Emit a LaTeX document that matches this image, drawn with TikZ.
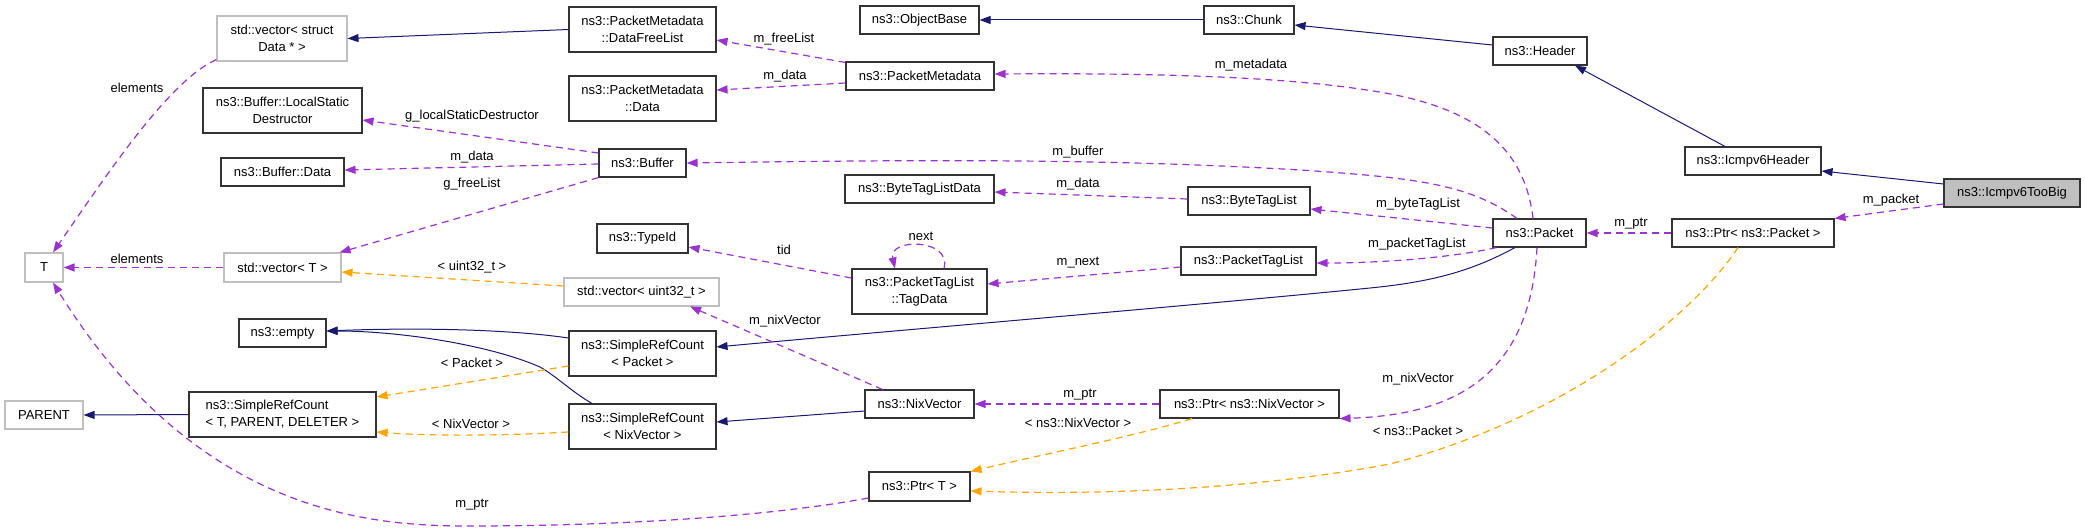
\documentclass[tikz,border=0pt]{standalone}
\usepackage{fontspec}
\setmainfont{Liberation Sans}
\usetikzlibrary{arrows.meta}
\definecolor{navy}{RGB}{25,25,112}
\definecolor{purp}{RGB}{154,50,205}
\definecolor{orng}{RGB}{255,165,0}
\definecolor{gbord}{RGB}{191,191,191}
\tikzset{
  box/.style={draw=black!80, line width=1.1pt, fill=white, inner sep=0pt, align=center, font=\fontsize{13}{17}\selectfont},
  gbox/.style={box, draw=gbord},
  lbl/.style={font=\fontsize{13}{15}\selectfont, inner sep=0pt},
  tip/.style={-{Triangle[length=11pt,width=8pt]}},
  inh/.style={tip, color=navy, line width=1pt},
  use/.style={tip, color=purp, line width=1.2pt, dash pattern=on 7pt off 5pt},
  tmpl/.style={tip, color=orng, line width=1.2pt, dash pattern=on 7pt off 5pt},
}
\begin{document}
\begin{tikzpicture}[x=1pt,y=-1pt]
\useasboundingbox (0,0) rectangle (2085,532);
% nodes
\node[gbox, minimum width=130pt, minimum height=45pt] (vecStruct) at (282,38.5) {std::vector< struct\\Data * >};
\node[box, minimum width=159pt, minimum height=45pt] (LocalStatic) at (282.5,110.5) {ns3::Buffer::LocalStatic\\Destructor};
\node[box, minimum width=123pt, minimum height=28pt] (BufData) at (282.5,172) {ns3::Buffer::Data};
\node[box, minimum width=147pt, minimum height=45pt] (DataFreeList) at (642.5,29.5) {ns3::PacketMetadata\\::DataFreeList};
\node[box, minimum width=147pt, minimum height=45pt] (PMData) at (642.5,98.5) {ns3::PacketMetadata\\::Data};
\node[box, minimum width=87pt, minimum height=28pt] (Buffer) at (642.5,163) {ns3::Buffer};
\node[box, minimum width=91pt, minimum height=29pt] (TypeId) at (642.5,238.5) {ns3::TypeId};
\node[gbox, minimum width=38pt, minimum height=29pt] (T) at (44,267.5) {T};
\node[gbox, minimum width=117pt, minimum height=29pt] (vecT) at (282.5,267.5) {std::vector< T >};
\node[gbox, minimum width=78pt, minimum height=28pt] (PARENT) at (44,415) {PARENT};
\node[box, minimum width=187pt, minimum height=45pt, align=left] (SRCT) at (282.5,414.5) {ns3::SimpleRefCount\\< T, PARENT, DELETER >};
\node[box, minimum width=87pt, minimum height=28pt] (empty) at (282.5,333) {ns3::empty};
\node[gbox, minimum width=155pt, minimum height=28pt] (vecU) at (641.5,292) {std::vector< uint32\_t >};
\node[box, minimum width=147pt, minimum height=45pt] (SRCPacket) at (642.5,353.5) {ns3::SimpleRefCount\\< Packet >};
\node[box, minimum width=147pt, minimum height=45pt] (SRCNix) at (642.5,426.5) {ns3::SimpleRefCount\\< NixVector >};
\node[box, minimum width=119pt, minimum height=28pt] (ObjectBase) at (919.5,20) {ns3::ObjectBase};
\node[box, minimum width=90pt, minimum height=28pt] (Chunk) at (1249,20) {ns3::Chunk};
\node[box, minimum width=148pt, minimum height=28pt] (PacketMetadata) at (920,76) {ns3::PacketMetadata};
\node[box, minimum width=149pt, minimum height=28pt] (ByteTagListData) at (919.5,189) {ns3::ByteTagListData};
\node[box, minimum width=122pt, minimum height=28pt] (ByteTagList) at (1249,201) {ns3::ByteTagList};
\node[box, minimum width=135pt, minimum height=28pt] (PacketTagList) at (1248.5,261) {ns3::PacketTagList};
\node[box, minimum width=135pt, minimum height=45pt] (TagData) at (919.5,291.5) {ns3::PacketTagList\\::TagData};
\node[box, minimum width=109pt, minimum height=28pt] (NixVector) at (919.5,404) {ns3::NixVector};
\node[box, minimum width=179pt, minimum height=28pt] (PtrNix) at (1249.5,404) {ns3::Ptr< ns3::NixVector >};
\node[box, minimum width=101pt, minimum height=29pt] (PtrT) at (919.5,486.5) {ns3::Ptr< T >};
\node[box, minimum width=94pt, minimum height=28pt] (Header) at (1540,51) {ns3::Header};
\node[box, minimum width=136pt, minimum height=28pt] (IcmpHeader) at (1753,161) {ns3::Icmpv6Header};
\node[box, minimum width=136pt, minimum height=28pt, fill=gbord] (TooBig) at (2012,193) {ns3::Icmpv6TooBig};
\node[box, minimum width=93pt, minimum height=28pt] (Packet) at (1539.5,233) {ns3::Packet};
\node[box, minimum width=162pt, minimum height=28pt] (PtrPacket) at (1753,233) {ns3::Ptr< ns3::Packet >};
% inheritance edges
\draw[inh] (DataFreeList.west) -- (vecStruct.east);
\draw[inh] (Chunk.west) -- (ObjectBase.east);
\draw[inh] ([yshift=6pt]Header.west) -- ([yshift=-5pt]Chunk.east);
\draw[inh] ([xshift=-28pt]IcmpHeader.north) -- ([xshift=35pt]Header.south);
\draw[inh] ([yshift=9pt]TooBig.west) -- ([yshift=-10pt]IcmpHeader.east);
\draw[inh] ([xshift=-24.5pt]Packet.south) .. controls (1470,272) and (1430,282) .. (1370,288) .. controls (1200,305) and (900,330) .. ([yshift=6.5pt]SRCPacket.east);
\draw[inh] ([yshift=-7pt]NixVector.west) -- ([yshift=4.5pt]SRCNix.east);
\draw[inh] (SRCT.west) -- (PARENT.east);
\draw[inh] ([yshift=15.5pt]SRCPacket.west) .. controls (500,328) and (400,328) .. ([yshift=2pt]empty.east);
\draw[inh] ([xshift=-50.5pt]SRCNix.north) .. controls (572,392) and (556,376) .. (540,367) .. controls (490,345) and (400,331) .. ([yshift=2pt]empty.east);
% usage edges
\draw[use] ([yshift=-11pt]TooBig.west) -- (PtrPacket.north east);
\draw[use] (PtrPacket.west) -- (Packet.east);
\draw[use] ([xshift=-6.5pt]Packet.north) .. controls (1525,150) and (1480,110) .. (1385,93) .. controls (1290,76) and (1150,73) .. ([yshift=2pt]PacketMetadata.east);
\draw[use] ([xshift=-22.5pt]Packet.north) .. controls (1470,185) and (1420,178) .. (1300,170) .. controls (1100,158) and (900,160) .. (Buffer.east);
\draw[use] ([yshift=5pt]Packet.west) -- ([yshift=-8pt]ByteTagList.east);
\draw[use] ([xshift=4pt]Packet.south west) .. controls (1450,258) and (1380,263) .. ([yshift=-2pt]PacketTagList.east);
\draw[use] ([xshift=-2.5pt]Packet.south) .. controls (1530,380) and (1450,415) .. (PtrNix.south east);
\draw[use] ([yshift=2pt]ByteTagList.west) -- ([yshift=-3pt]ByteTagListData.east);
\draw[use] ([yshift=-6pt]PacketTagList.west) -- ([yshift=7.5pt]TagData.east);
\draw[use] ([xshift=24.5pt]TagData.north) .. controls (952,238) and (888,238) .. ([xshift=-24.5pt]TagData.north);
\draw[use] ([yshift=13.5pt]TagData.west) -- ([yshift=-8.5pt]TypeId.east);
\draw[use] ([yshift=-1pt]PacketMetadata.north west) -- ([yshift=-10.5pt]DataFreeList.east);
\draw[use] ([yshift=-7pt]PacketMetadata.west) -- ([yshift=8.5pt]PMData.east);
\draw[use] ([yshift=10pt]Buffer.west) -- ([yshift=-9.5pt]LocalStatic.east);
\draw[use] ([yshift=-1pt]Buffer.west) -- ([yshift=2pt]BufData.east);
\draw[use] (Buffer.south west) -- ([xshift=-2pt]vecT.north east);
\draw[use] ([yshift=2pt]vecStruct.south west) .. controls (170,80) and (110,170) .. ([xshift=9pt]T.north);
\draw[use] (vecT.west) -- (T.east);
\draw[use] ([xshift=-37pt]NixVector.north) -- ([xshift=48.5pt]vecU.south);
\draw[use] (PtrNix.west) -- (NixVector.east);
\draw[use] ([yshift=-11.5pt]PtrT.west) .. controls (750,520) and (580,526) .. (472,526) .. controls (380,526) and (200,520) .. ([xshift=9pt]T.south);
% template edges
\draw[tmpl] ([xshift=-15pt]PtrPacket.south) .. controls (1690,320) and (1560,420) .. (1390,464) .. controls (1250,490) and (1100,495) .. ([yshift=-4.5pt]PtrT.east);
\draw[tmpl] ([xshift=-57.5pt]PtrNix.south) .. controls (1140,435) and (1040,455) .. (PtrT.north east);
\draw[tmpl] ([yshift=6pt]vecU.west) -- ([yshift=-4.5pt]vecT.east);
\draw[tmpl] ([yshift=-12.5pt]SRCPacket.west) -- ([yshift=17.5pt]SRCT.east);
\draw[tmpl] ([yshift=-5.5pt]SRCNix.west) .. controls (500,436) and (430,436) .. ([yshift=-17.5pt]SRCT.east);
% labels
\node[lbl] (l1) at (137,88) {elements};
\node[lbl] (l2) at (137,259) {elements};
\node[lbl] (l3) at (472,116) {g\_localStaticDestructor};
\node[lbl] (l4) at (472,157) {m\_data};
\node[lbl] (l5) at (472,184) {g\_freeList};
\node[lbl] (l6) at (472,267) {< uint32\_t >};
\node[lbl] (l7) at (472,363) {< Packet >};
\node[lbl] (l8) at (471,424) {< NixVector >};
\node[lbl] (l9) at (472,505) {m\_ptr};
\node[lbl] (l10) at (784,39) {m\_freeList};
\node[lbl] (l11) at (785,76) {m\_data};
\node[lbl] (l12) at (1251,65) {m\_metadata};
\node[lbl] (l13) at (1078,152) {m\_buffer};
\node[lbl] (l14) at (1078,184) {m\_data};
\node[lbl] (l15) at (921,236) {next};
\node[lbl] (l16) at (784,250) {tid};
\node[lbl] (l17) at (1078,263) {m\_next};
\node[lbl] (l18) at (785,321) {m\_nixVector};
\node[lbl] (l19) at (1080,395) {m\_ptr};
\node[lbl] (l20) at (1078,423) {< ns3::NixVector >};
\node[lbl] (l21) at (1891,200) {m\_packet};
\node[lbl] (l22) at (1631,224) {m\_ptr};
\node[lbl] (l23) at (1418,204) {m\_byteTagList};
\node[lbl] (l24) at (1417,244) {m\_packetTagList};
\node[lbl] (l25) at (1418,379) {m\_nixVector};
\node[lbl] (l26) at (1418,431) {< ns3::Packet >};
\end{tikzpicture}
\end{document}
